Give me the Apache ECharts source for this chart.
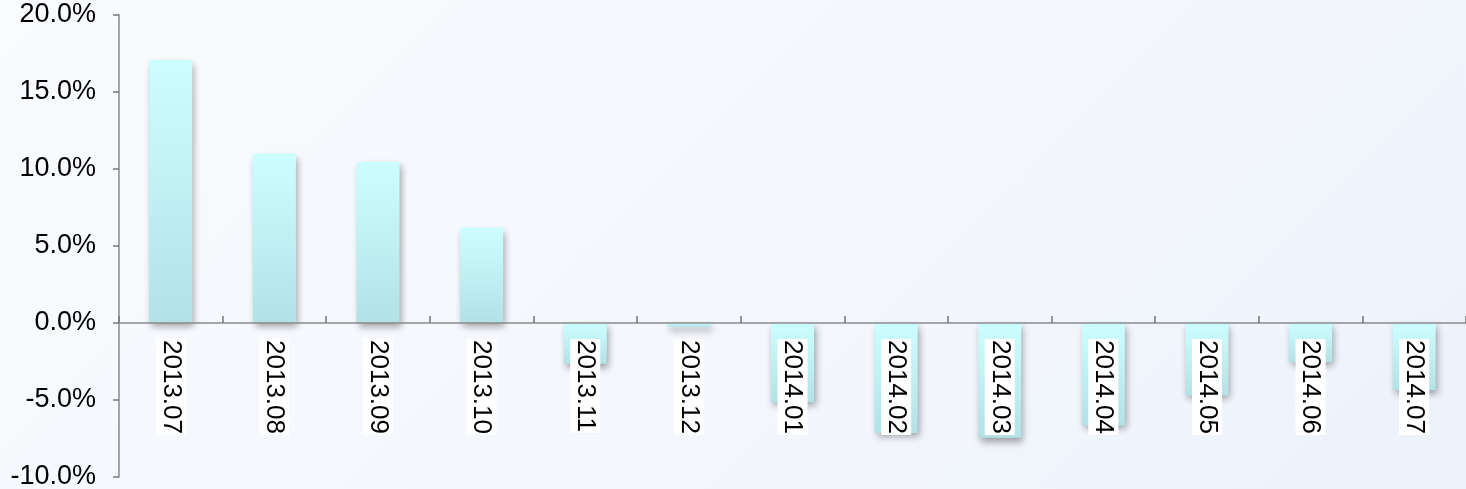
<!DOCTYPE html>
<html>
<head>
<meta charset="utf-8">
<script src="https://cdn.jsdelivr.net/npm/echarts@6/dist/echarts.min.js"></script>
<style>
html,body{margin:0;padding:0;}
#c{width:1466px;height:489px;background:linear-gradient(135deg,#f9fbfe 0%,#f3f6fc 60%,#edf2fb 100%);}
</style>
</head>
<body>
<div id="c"></div>
<script>
const categories = ['2013.07','2013.08','2013.09','2013.10','2013.11','2013.12','2014.01','2014.02','2014.03','2014.04','2014.05','2014.06','2014.07'];
const values = [17.1, 11.0, 10.45, 6.2, -2.65, -0.25, -5.15, -7.15, -7.45, -6.65, -4.7, -2.55, -4.35];
const yMin = -10, yMax = 20, yStep = 5;

const gridTop = 15, gridBottom = 12, H = 489;
const plotH = H - gridTop - gridBottom;
const zeroShift = -(plotH * (0 - yMin) / (yMax - yMin));

const chart = echarts.init(document.getElementById('c'), null, {renderer: 'canvas'});
const font = '"Liberation Sans", Arial, sans-serif';
chart.setOption({
  animation: false,
  backgroundColor: 'transparent',
  grid: {left: 119, right: 0, top: gridTop, bottom: gridBottom, containLabel: false, outerBoundsMode: 'none'},
  xAxis: {
    type: 'category',
    data: categories,
    z: 10,
    offset: zeroShift,
    axisLine: {onZero: false, lineStyle: {color: '#8a8a8a', width: 1.5}},
    axisTick: {show: true, inside: true, length: 7, alignWithLabel: false, lineStyle: {color: '#777', width: 1.5}},
    axisLabel: {
      rotate: -90, margin: 16, color: '#000', fontSize: 26, fontFamily: font,
      backgroundColor: '#ffffff', lineHeight: 30, padding: [0, 1, 0, 1], interval: 0
    },
    splitLine: {show: false}
  },
  yAxis: {
    type: 'value',
    min: yMin, max: yMax, interval: yStep,
    axisLine: {show: true, lineStyle: {color: '#8a8a8a', width: 1.5}},
    axisTick: {show: true, inside: false, length: 6, lineStyle: {color: '#777', width: 1.5}},
    axisLabel: {
      color: '#000', fontSize: 27, fontFamily: font, margin: 23,
      formatter: v => v.toFixed(1) + '%'
    },
    splitLine: {show: false}
  },
  series: [{
    type: 'bar',
    data: values,
    barWidth: 43,
    itemStyle: {
      color: new echarts.graphic.LinearGradient(0, 0, 0, 1, [
        {offset: 0, color: '#ccfeff'},
        {offset: 1, color: '#b3e2e6'}
      ]),
      shadowColor: 'rgba(0,0,0,0.35)',
      shadowBlur: 7,
      shadowOffsetX: 2,
      shadowOffsetY: 4
    }
  }]
});
</script>
</body>
</html>
